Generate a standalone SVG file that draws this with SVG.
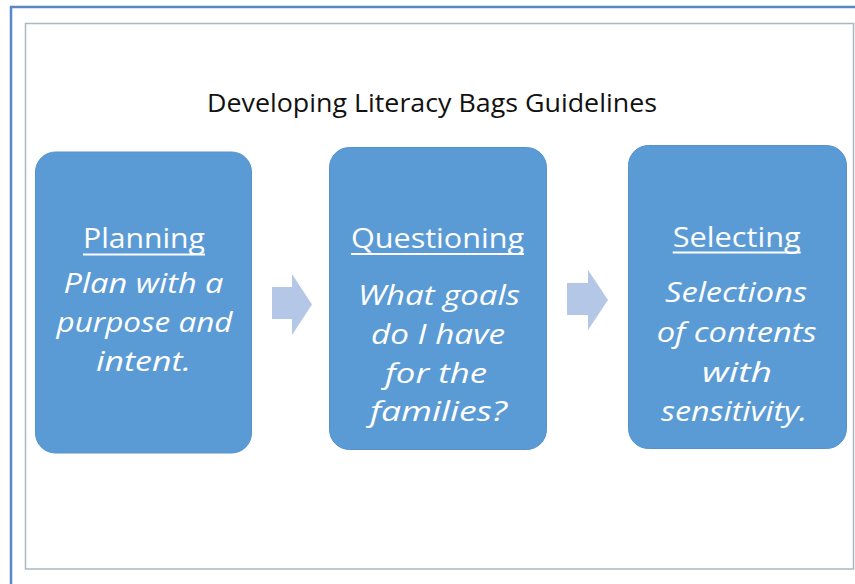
<svg xmlns="http://www.w3.org/2000/svg" width="855" height="584" viewBox="0 0 855 584">
<style>
.frame{fill:#ffffff;stroke:#a9b8c4;stroke-width:1.5}
.outer{stroke:#5a86c8;stroke-width:2.5;fill:none}
.box{fill:#5b9bd5;stroke:#5592cc;stroke-width:1}
.arrow{fill:#b4c7e7}
.title{font-family:"Open Sans","Liberation Sans",sans-serif;font-size:25px;fill:#111111;text-anchor:middle}
.head{font-family:"Open Sans","Liberation Sans",sans-serif;font-size:27.5px;fill:#ffffff;text-anchor:middle}
.body{font-family:"Open Sans","Liberation Sans",sans-serif;font-size:27.5px;font-style:italic;fill:#ffffff;text-anchor:middle}
.ul{stroke:#ffffff;stroke-width:1.8}
</style>
<rect x="0" y="0" width="855" height="584" fill="#ffffff"/>
<path class="outer" d="M11,584 L11,7 L855,7"/>
<rect class="frame" x="25.5" y="23.5" width="828" height="545.5"/>
<text class="title" x="432" y="111.7" textLength="450" lengthAdjust="spacingAndGlyphs">Developing Literacy Bags Guidelines</text>
<g id="connectors">
<polygon id="arrow1" class="arrow" points="272,287 292,287 292,274 312,304.5 292,335 292,319 272,319"/>
<polygon id="arrow2" class="arrow" points="567,283 588,283 588,270 608,300 588,330 588,315 567,315"/>
</g>
<g id="planning">
<rect class="box" x="35.5" y="152" width="216" height="301" rx="20" ry="20"/>
<text class="head" x="144" y="248" textLength="122" lengthAdjust="spacingAndGlyphs">Planning</text>
<line class="ul" x1="83" y1="254.5" x2="205" y2="254.5"/>
<text class="body" x="143.5" y="293" textLength="160" lengthAdjust="spacingAndGlyphs">Plan with a</text>
<text class="body" x="144.5" y="332" textLength="176" lengthAdjust="spacingAndGlyphs">purpose and</text>
<text class="body" x="143.5" y="371" textLength="95" lengthAdjust="spacingAndGlyphs">intent.</text>
</g>
<g id="questioning">
<rect class="box" x="329.5" y="147.5" width="217" height="302" rx="20" ry="20"/>
<text class="head" x="437.5" y="248" textLength="173" lengthAdjust="spacingAndGlyphs">Questioning</text>
<line class="ul" x1="351" y1="254" x2="524" y2="254"/>
<text class="body" x="439" y="305" textLength="162" lengthAdjust="spacingAndGlyphs">What goals</text>
<text class="body" x="438" y="344" textLength="134" lengthAdjust="spacingAndGlyphs">do I have</text>
<text class="body" x="436" y="383" textLength="102" lengthAdjust="spacingAndGlyphs">for the</text>
<text class="body" x="438.5" y="421" textLength="137" lengthAdjust="spacingAndGlyphs">families?</text>
</g>
<g id="selecting">
<rect class="box" x="628.5" y="145.5" width="218" height="303" rx="20" ry="20"/>
<text class="head" x="736.7" y="246.7" textLength="128" lengthAdjust="spacingAndGlyphs">Selecting</text>
<line class="ul" x1="672.7" y1="252.5" x2="800.7" y2="252.5"/>
<text class="body" x="736" y="301.7" textLength="142" lengthAdjust="spacingAndGlyphs">Selections</text>
<text class="body" x="736.7" y="341.7" textLength="160" lengthAdjust="spacingAndGlyphs">of contents</text>
<text class="body" x="737" y="381.7" textLength="70" lengthAdjust="spacingAndGlyphs">with</text>
<text class="body" x="734" y="420.5" textLength="146" lengthAdjust="spacingAndGlyphs">sensitivity.</text>
</g>
</svg>
